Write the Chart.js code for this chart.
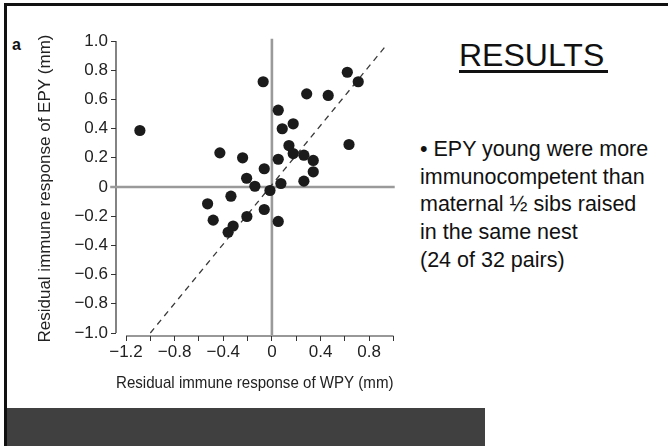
<!DOCTYPE html>
<html>
<head>
<meta charset="utf-8">
<script src="https://cdn.jsdelivr.net/npm/chart.js@4"></script>
<style>
  body { margin: 0; background: #fff; font-family: 'Liberation Sans', Arial, sans-serif; }
  #slide { position: relative; width: 668px; height: 446px; overflow: hidden; background: #fff; }
  #slide canvas { position: absolute; left: 0; top: 0; }
  .frame-top { position: absolute; left: 4px; right: 0; top: 3px; height: 3px; background: #111; }
  .frame-left { position: absolute; left: 4px; top: 3px; bottom: 0; width: 3px; background: #111; }
  .bar { position: absolute; left: 7px; top: 408px; width: 478px; height: 38px; background: #404040; }
  .panel { position: absolute; left: 12px; top: 37px; font-size: 16px; line-height: 16px; font-weight: bold; color: #111; }
  .title { position: absolute; left: 459px; top: 39px; font-size: 32px; line-height: 32px; color: #111; white-space: nowrap; }
  .title-rule { position: absolute; left: 459px; top: 70px; width: 149px; height: 3px; background: #111; }
  .notes { position: absolute; left: 420px; top: 136px; font-size: 21.5px; line-height: 27.7px; color: #111; white-space: nowrap; }
</style>
</head>
<body>
<div id="slide">
  <div class="frame-top"></div>
  <div class="frame-left"></div>
  <div class="bar"></div>
  <div class="panel">a</div>
  <div class="title">RESULTS</div>
  <div class="title-rule"></div>
  <div class="notes">• EPY young were more<br>immunocompetent than<br>maternal ½ sibs raised<br>in the same nest<br>(24 of 32 pairs)</div>
  <canvas id="scatter" width="668" height="446"></canvas>
</div>
<script>
// residual immune response (mm), one point per nest pair
var wpy = [-1.086, -0.428, -0.241, -0.208, -0.529, -0.337, -0.483, -0.360,
           -0.319, -0.206, -0.072, 0.620, 0.710, 0.286, 0.463, 0.052,
           0.085, 0.175, 0.634, 0.140, 0.175, 0.263, 0.340, 0.340,
           0.052, -0.063, 0.263, -0.140, 0.074, -0.016, -0.063, 0.052];
var epy = [0.387, 0.234, 0.200, 0.060, -0.115, -0.063, -0.227, -0.310,
           -0.267, -0.202, 0.721, 0.786, 0.721, 0.638, 0.627, 0.526,
           0.399, 0.433, 0.291, 0.284, 0.229, 0.218, 0.182, 0.104,
           0.190, 0.125, 0.040, 0.005, 0.024, -0.024, -0.154, -0.236];

// y = x reference (dashed)
var diagX = [-1.0, 0.95];
var diagY = [-1.0, 0.98];

// zero reference lines
var zeroSpanX = [-1.33, 1.01];
var zeroSpanY = [-1.02, 1.015];

var xTicks  = [-1.2, -1.0, -0.8, -0.6, -0.4, -0.2, 0, 0.2, 0.4, 0.6, 0.8, 1.0];
var xLabels = ['\u22121.2', '', '\u22120.8', '', '\u22120.4', '', '0', '', '0.4', '', '0.8', ''];
var yTicks  = [-1.0, -0.8, -0.6, -0.4, -0.2, 0, 0.2, 0.4, 0.6, 0.8, 1.0];
var yLabels = ['\u22121.0', '\u22120.8', '\u22120.6', '\u22120.4', '\u22120.2', '0', '0.2', '0.4', '0.6', '0.8', '1.0'];

Chart.defaults.font.family = "'Liberation Sans', Arial, sans-serif";
Chart.defaults.color = '#222';

function pairs(xs, ys) {
  return xs.map(function (v, i) { return { x: v, y: ys[i] }; });
}

// detached axis lines, drawn only over the labelled range
var axisLines = {
  id: 'axisLines',
  beforeDatasetsDraw: function (chart) {
    var ctx = chart.ctx, xs = chart.scales.x, ys = chart.scales.y, area = chart.chartArea;
    ctx.save();
    ctx.strokeStyle = '#333';
    ctx.lineWidth = 1.2;
    ctx.beginPath();
    ctx.moveTo(xs.getPixelForValue(xTicks[0]), area.bottom);
    ctx.lineTo(xs.getPixelForValue(xTicks[xTicks.length - 1]), area.bottom);
    ctx.moveTo(area.left, ys.getPixelForValue(yTicks[0]));
    ctx.lineTo(area.left, ys.getPixelForValue(yTicks[yTicks.length - 1]));
    ctx.stroke();
    ctx.restore();
  }
};

var zeroStyle = {
  type: 'line', showLine: true, borderColor: '#9a9a9a', borderWidth: 2.6,
  pointRadius: 0, fill: false, clip: false, order: 3
};

new Chart(document.getElementById('scatter'), {
  type: 'scatter',
  data: {
    datasets: [
      {
        label: 'pairs',
        data: pairs(wpy, epy),
        backgroundColor: '#1b1b1b',
        borderWidth: 0,
        pointRadius: 5.6,
        order: 0
      },
      {
        label: 'y=x',
        type: 'line', showLine: true, data: pairs(diagX, diagY),
        borderColor: '#3a3a3a', borderWidth: 1.3, borderDash: [6, 5],
        pointRadius: 0, fill: false, clip: false, order: 1
      },
      Object.assign({ label: 'zero y', data: pairs(zeroSpanX, [0, 0]) }, zeroStyle),
      Object.assign({ label: 'zero x', data: pairs([0, 0], zeroSpanY) }, zeroStyle)
    ]
  },
  options: {
    responsive: false,
    animation: false,
    layout: { padding: { left: 0, right: 274.5, top: 41, bottom: 48 } },
    plugins: { legend: { display: false }, tooltip: { enabled: false } },
    scales: {
      x: {
        type: 'linear',
        min: -1.2823,
        max: 1.0,
        afterFit: function (s) { s.height = 62; },
        afterBuildTicks: function (s) { s.ticks = xTicks.map(function (v) { return { value: v }; }); },
        grid: { drawOnChartArea: false, drawTicks: true, tickLength: 5, color: '#333', lineWidth: 1 },
        border: { display: false },
        ticks: {
          autoSkip: false, maxRotation: 0, padding: 1,
          font: { size: 17 }, color: '#222',
          callback: function (v, i) { return xLabels[i]; }
        },
        title: {
          display: true, text: 'Residual immune response of WPY (mm)',
          font: { size: 17 }, color: '#222', padding: { top: 0, bottom: 4 }
        }
      },
      y: {
        type: 'linear',
        min: -1.0205,
        max: 1.0,
        afterFit: function (s) { s.width = 116; },
        afterBuildTicks: function (s) { s.ticks = yTicks.map(function (v) { return { value: v }; }); },
        grid: { drawOnChartArea: false, drawTicks: true, tickLength: 5, color: '#333', lineWidth: 1 },
        border: { display: false },
        ticks: {
          autoSkip: false, padding: 3,
          font: { size: 17 }, color: '#222',
          callback: function (v, i) { return yLabels[i]; }
        },
        title: {
          display: true, text: 'Residual immune response of EPY (mm)',
          font: { size: 17 }, color: '#222', padding: { top: 35, bottom: 0 }
        }
      }
    }
  },
  plugins: [axisLines]
});
</script>
</body>
</html>
